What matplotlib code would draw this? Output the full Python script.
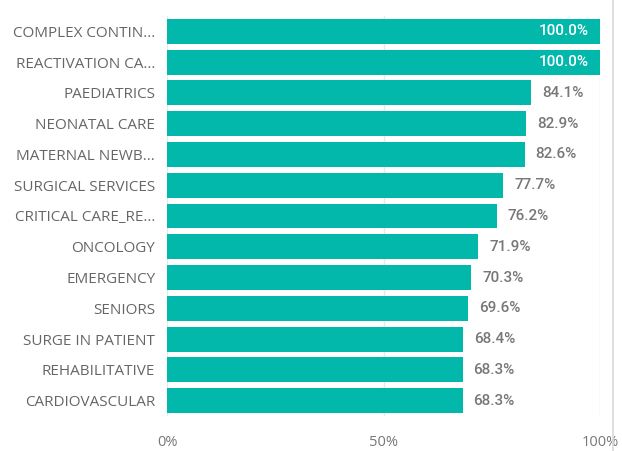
import matplotlib

matplotlib.use("Agg")
import matplotlib.pyplot as plt
from matplotlib.lines import Line2D

categories = [
    "COMPLEX CONTIN...", "REACTIVATION CA...", "PAEDIATRICS", "NEONATAL CARE",
    "MATERNAL NEWB...", "SURGICAL SERVICES", "CRITICAL CARE_RE...", "ONCOLOGY",
    "EMERGENCY", "SENIORS", "SURGE IN PATIENT", "REHABILITATIVE", "CARDIOVASCULAR",
]
values = [100.0, 100.0, 84.1, 82.9, 82.6, 77.7, 76.2, 71.9, 70.3, 69.6, 68.4, 68.3, 68.3]
xticks = [0, 50, 100]
xtick_labels = ["0%", "50%", "100%"]

BAR = "#01B8AA"
TEXT = "#666666"

fig = plt.figure(figsize=(6.22, 4.51), dpi=100)
ax = fig.add_axes([167 / 622, 1 - 416 / 451, 433 / 622, 400 / 451])

pos = list(range(len(categories)))
ax.barh(pos, values, height=0.81, color=BAR, zorder=2)
ax.set_ylim(len(categories) - 0.5, -0.5)
ax.set_xlim(0, 100)

ax.set_yticks(pos, categories)
ax.set_xticks(xticks, xtick_labels)
ax.tick_params(axis="y", length=0, pad=8.5, labelsize=11, labelcolor=TEXT)
ax.tick_params(axis="x", length=0, pad=14, labelsize=10.5, labelcolor="#777777")
for lab in ax.get_yticklabels() + ax.get_xticklabels():
    lab.set_fontfamily("Open Sans")

ax.grid(axis="x", color="#e8e8e8", linewidth=1, zorder=0)
for s in ax.spines.values():
    s.set_visible(False)

for p, v in zip(pos, values):
    txt = f"{v:.1f}%"
    if v >= 95:
        ax.text(v - 2.5, p, txt, ha="right", va="center", color="white",
                fontsize=11, family="Roboto", weight="medium", zorder=3)
    else:
        ax.text(v + 2.5, p, txt, ha="left", va="center", color="#777777",
                fontsize=11, family="Roboto", weight="medium", zorder=3)

# scrollbar edge on the right
fig.add_artist(Line2D([613 / 622, 613 / 622], [0, 1], color="#d9d9d9", linewidth=1.2))

fig.savefig("out.png", dpi=100)
